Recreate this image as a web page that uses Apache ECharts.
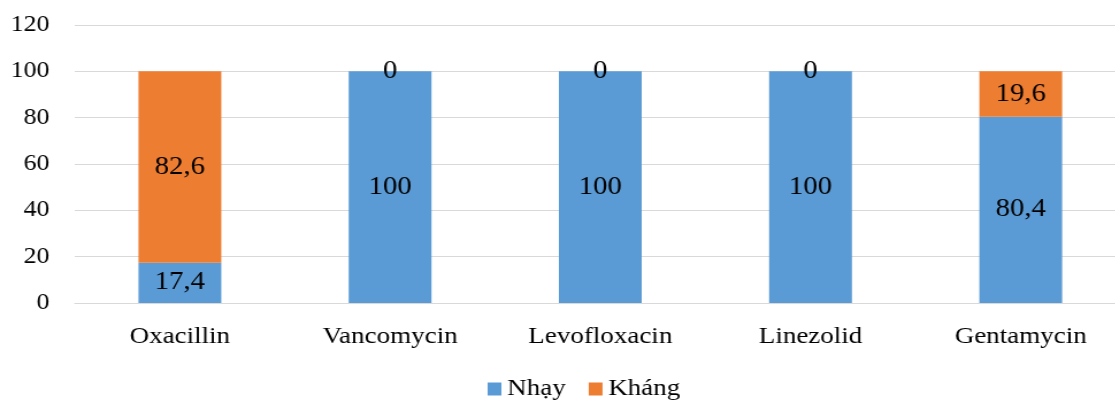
<!DOCTYPE html>
<html lang="vi">
<head>
    <meta charset="utf-8">
    <meta name="viewport" content="width=device-width, initial-scale=1"/>
    <script src="https://cdn.jsdelivr.net/npm/echarts@6/dist/echarts.min.js"></script>
</head>
<body style="margin:0; background:#fff; overflow:hidden;">
<!-- hình gốc bị kéo giãn theo chiều ngang ~1.15 lần -->
<div id="chart" style="width:979px; height:403px; transform:scaleX(1.15); transform-origin:0 0;"></div>
<script type="text/javascript">
    // dữ liệu
    var categories = ['Oxacillin', 'Vancomycin', 'Levofloxacin', 'Linezolid', 'Gentamycin'];
    var nhay = [17.4, 100, 100, 100, 80.4];
    var khang = [82.6, 0, 0, 0, 19.6];
    var yTicks = [0, 20, 40, 60, 80, 100, 120];

    var font = '"Liberation Serif", "Times New Roman", serif';

    function fmt(p) {
        return String(p.value).replace('.', ',');
    }

    var myChart = echarts.init(document.getElementById('chart'));
    var option = {
        backgroundColor: '#fff',
        animation: false,
        grid: {left: 65, right: 0, top: 25, bottom: 100},
        legend: {
            bottom: -3,
            left: 419,
            itemWidth: 12,
            itemHeight: 13,
            itemGap: 20,
            icon: 'rect',
            textStyle: {fontFamily: font, fontSize: 23.5, color: '#000'},
            data: ['Nhạy', 'Kháng']
        },
        xAxis: {
            type: 'category',
            data: categories,
            axisTick: {show: false},
            axisLine: {lineStyle: {color: '#d9d9d9', width: 1}},
            axisLabel: {fontFamily: font, fontSize: 23.5, color: '#000', margin: 22}
        },
        yAxis: {
            type: 'value',
            min: yTicks[0],
            max: yTicks[yTicks.length - 1],
            interval: 20,
            axisLine: {show: false},
            axisTick: {show: false},
            splitLine: {lineStyle: {color: '#d9d9d9', width: 1}},
            axisLabel: {fontFamily: font, fontSize: 22.5, color: '#000', margin: 22}
        },
        series: [
            {
                name: 'Nhạy',
                type: 'bar',
                stack: 'total',
                barWidth: 72,
                data: nhay,
                itemStyle: {color: '#5b9bd5'},
                label: {show: true, position: 'inside', formatter: fmt,
                    fontFamily: font, fontSize: 25, color: '#000'}
            },
            {
                name: 'Kháng',
                type: 'bar',
                stack: 'total',
                barWidth: 72,
                data: khang,
                itemStyle: {color: '#ed7d31'},
                label: {show: true, position: 'inside', formatter: fmt,
                    fontFamily: font, fontSize: 25, color: '#000'}
            }
        ]
    };
    myChart.setOption(option);
</script>
</body>
</html>
